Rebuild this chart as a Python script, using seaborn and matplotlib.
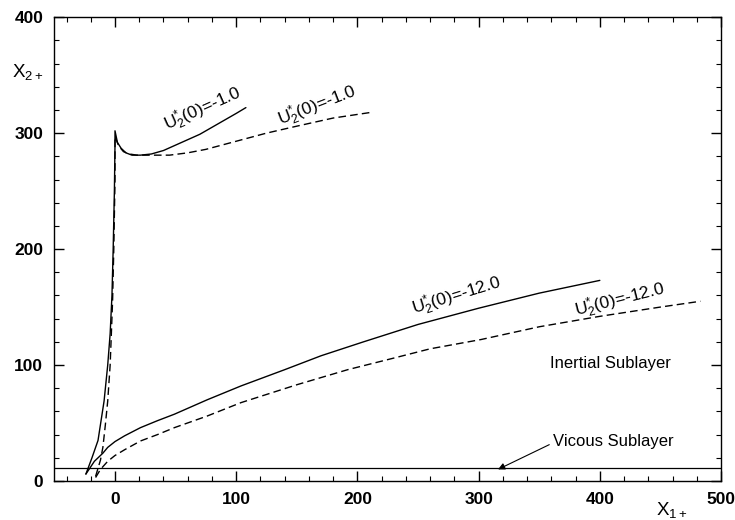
import numpy as np
import pandas as pd
import matplotlib
matplotlib.use("Agg")
import matplotlib.pyplot as plt
from matplotlib.ticker import MultipleLocator
import seaborn as sns

# curve data (x1+, x2+)
x_solid_1 = [-24, -19, -14, -9, -6, -4, -2.5, -1.5, -0.5, 0, 0, 2, 5, 9, 14, 21, 30, 40, 55, 70, 85, 100, 108]
y_solid_1 = [6, 20, 35, 69, 100, 127, 160, 200, 250, 290, 302, 292, 287, 283, 281, 281, 282, 285, 292, 299, 308, 317, 322]

x_dash_1 = [-16, -12, -10, -8, -6, -4, -3, -2, -1, 0, 0, 3, 7, 12, 18, 25, 35, 45, 60, 75, 100, 125, 150, 180, 212]
y_dash_1 = [4, 18, 29, 48, 69, 100, 127, 155, 200, 260, 297, 289, 284, 282, 281, 281, 281, 281, 283, 286, 293, 300, 306, 313, 318]

x_solid_12 = [-24, -17, -10, -6, 0, 8, 21, 35, 49, 76, 104, 140, 170, 205, 250, 300, 350, 400]
y_solid_12 = [6, 17, 24, 29, 34, 39, 46, 52, 57.6, 70, 82, 96, 108, 120, 135, 149, 162, 173]

x_dash_12 = [-16, -12, -6, 0, 8, 21, 35, 49, 76, 104, 150, 192, 230, 260, 302, 350, 400, 450, 483]
y_dash_12 = [3, 10, 17, 22, 27, 34.5, 40, 46, 56, 67.6, 83, 96, 106, 114, 122, 133, 142, 150, 155]

viscous_y = 11.6
x_ticks = [0, 100, 200, 300, 400, 500]
y_ticks = [0, 100, 200, 300, 400]

sns.set_theme(style="ticks")
plt.rcParams['font.family'] = ['Liberation Sans', 'DejaVu Sans']
plt.rcParams['mathtext.fontset'] = 'custom'
plt.rcParams['mathtext.rm'] = 'Liberation Sans'
plt.rcParams['mathtext.it'] = 'Liberation Sans'
plt.rcParams['text.color'] = 'black'
plt.rcParams['xtick.color'] = 'black'
plt.rcParams['ytick.color'] = 'black'
plt.rcParams['xtick.labelcolor'] = 'black'
plt.rcParams['ytick.labelcolor'] = 'black'

fig = plt.figure(figsize=(7.35, 5.2), dpi=100)
ax = fig.add_axes([0.074, 0.075, 0.907, 0.892])

dash = (0, (5.5, 3))
for xs, ys, ls in [(x_solid_1, y_solid_1, '-'), (x_dash_1, y_dash_1, dash),
                   (x_solid_12, y_solid_12, '-'), (x_dash_12, y_dash_12, dash)]:
    sns.lineplot(x=xs, y=ys, sort=False, estimator=None, color='black',
                 linewidth=1.0, linestyle=ls, ax=ax)

ax.axhline(viscous_y, color='black', linewidth=0.9)

ax.set_xlim(-50, 500)
ax.set_ylim(0, 400)
ax.set_xticks(x_ticks)
ax.set_yticks(y_ticks)
ax.xaxis.set_minor_locator(MultipleLocator(20))
ax.yaxis.set_minor_locator(MultipleLocator(20))
ax.tick_params(which='both', direction='in', top=True, right=True, color='black')
ax.tick_params(which='major', length=7, width=1.0, labelsize=12.5, pad=8)
ax.tick_params(which='minor', length=3.5, width=0.8)
for lab in ax.get_xticklabels() + ax.get_yticklabels():
    lab.set_fontweight('bold')
for s in ax.spines.values():
    s.set_color('black')
    s.set_linewidth(1.0)
ax.set_xlabel('')
ax.set_ylabel('')

lab1 = r'U$^{*}_{2}$(0)=-1.0'
lab12 = r'U$^{*}_{2}$(0)=-12.0'
ax.text(45, 297, lab1, rotation=24, fontsize=12.5, ha='left', va='bottom', rotation_mode='anchor')
ax.text(139, 301, lab1, rotation=21, fontsize=12.5, ha='left', va='bottom', rotation_mode='anchor')
ax.text(248, 138, lab12, rotation=17, fontsize=12.5, ha='left', va='bottom', rotation_mode='anchor')
ax.text(382, 136, lab12, rotation=14, fontsize=12.5, ha='left', va='bottom', rotation_mode='anchor')

ax.text(359, 101, 'Inertial Sublayer', fontsize=12, ha='left', va='center')
ax.annotate('Vicous Sublayer', xy=(316, 10), xytext=(361, 34), fontsize=12,
            ha='left', va='center',
            arrowprops=dict(arrowstyle='-|>', color='black', lw=0.8,
                            shrinkA=0, shrinkB=0, relpos=(0, 0.4),
                            mutation_scale=10))

fig.text(0.017, 0.862, r'X$_{2+}$', fontsize=13.5, ha='left', va='center')
fig.text(0.893, 0.02, r'X$_{1+}$', fontsize=13.5, ha='left', va='center')

fig.savefig('out.png', dpi=100)
